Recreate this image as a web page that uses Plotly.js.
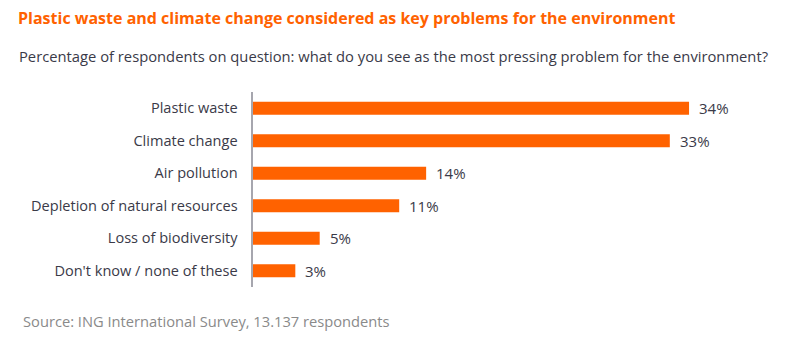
<!DOCTYPE html>
<html><head><meta charset="utf-8">
<script src="https://cdn.plot.ly/plotly-3.0.1.min.js"></script>
<style>html,body{margin:0;padding:0;background:#fff}</style>
</head><body><div id="chart" style="width:800px;height:345px"></div>
<script>
const categories = ["Plastic waste","Climate change","Air pollution","Depletion of natural resources","Loss of biodiversity","Don't know / none of these"];
const values = [34, 32.5, 13.5, 11.4, 5.2, 3.3];
const labels = ["34%","33%","14%","11%","5%","3%"];

const W=800,H=345, L=253, R=34, T=91.5, B=57.5;
const pw=W-L-R, ph=H-T-B;
const px=x=>(x-L)/pw, py=y=>(H-B-y)/ph;
const font="'Open Sans', sans-serif";
const orange="#FF6200";
const txt="#3a3a48";

const annotations = categories.map((c,i)=>({
  x: values[i], y: c, xref:'x', yref:'y', text: labels[i], showarrow:false,
  xanchor:'left', yanchor:'middle', xshift:8, font:{family:font,size:15,color:txt}
}));
annotations.push({xref:'paper',yref:'paper',x:px(17),y:py(55),xanchor:'left',yanchor:'middle',
  text:"Percentage of respondents on question: what do you see as the most pressing problem for the environment?",
  showarrow:false,font:{family:font,size:14.75,color:txt}});
annotations.push({xref:'paper',yref:'paper',x:px(21),y:py(322),xanchor:'left',yanchor:'middle',
  text:"Source: ING International Survey, 13.137 respondents",
  showarrow:false,font:{family:font,size:14.7,color:'#8a8a8a'}});

Plotly.newPlot('chart',[{
  type:'bar', orientation:'h', x:values, y:categories,
  marker:{color:orange}, hoverinfo:'none'
}],{
  width:W,height:H,margin:{l:L,r:R,t:T,b:B},
  paper_bgcolor:'#fff',plot_bgcolor:'#fff',
  bargap:0.6, showlegend:false,
  title:{text:"<b>Plastic waste and climate change considered as key problems for the environment</b>",
    x:18/W, xanchor:'left', xref:'container', y:1-18/H, yanchor:'middle', yref:'container',
    font:{family:font,size:16,color:orange}},
  xaxis:{range:[0,40],visible:false,fixedrange:true},
  yaxis:{autorange:'reversed',showline:true,linecolor:'#a6a6ae',linewidth:2.5,
    showgrid:false,zeroline:false,ticks:'',ticklabelstandoff:10,
    tickfont:{family:font,size:14.55,color:txt},fixedrange:true},
  annotations:annotations
},{displayModeBar:false,staticPlot:true});
</script></body></html>
